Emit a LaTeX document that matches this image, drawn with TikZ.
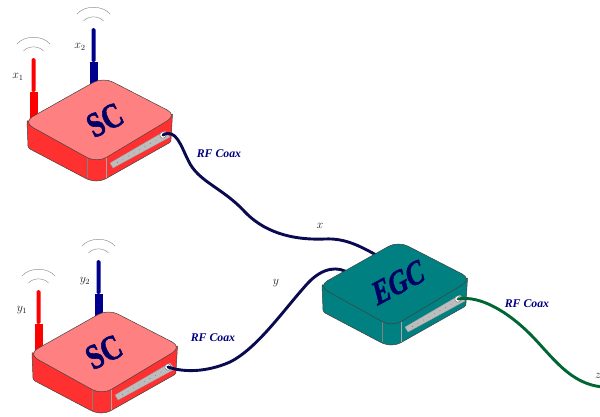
\documentclass[tikz,border=0pt]{standalone}
\usepackage{fontspec}
\setmainfont{Liberation Serif}
\newfontfamily\heavyserif[FakeBold=1.6]{Liberation Serif Bold}
\newfontfamily\heavyital[FakeBold=1.6,FakeSlant=.12]{Liberation Serif Bold Italic}
\usetikzlibrary{calc}
\definecolor{navyT}{HTML}{000066}
\definecolor{coaxT}{HTML}{000080}
\definecolor{cableN}{HTML}{0A0A50}
\definecolor{cableG}{HTML}{006633}
\definecolor{redtop}{HTML}{FF8080}
\definecolor{redside}{HTML}{FF3030}
\definecolor{tealbox}{HTML}{008080}
\definecolor{labelink}{HTML}{222222}
\tikzset{
  x=1pt,y=-1pt,
  caselines/.style={draw=black!75,line width=.5pt,line join=round},
  wave/.style={draw=black!45,line width=.45pt},
  devlabel/.style={font=\heavyserif\fontsize{35}{35}\selectfont,text=navyT,inner sep=0pt},
  coaxlabel/.style={font=\bfseries\itshape\fontsize{11.8}{12}\selectfont,text=coaxT,inner sep=0pt},
  siglabel/.style={font=\itshape\fontsize{12}{12}\selectfont,text=labelink,inner sep=0pt},
  cableline/.style={line width=2.9pt,line cap=round},
}
% #1 name, #2 offset, #3 top colour, #4 side colour
\newcommand{\routerdev}[4]{%
\begin{scope}[shift={#2}]
  \fill[#4,caselines] (27,121) -- (28,146) .. controls (28,147) and (29,148) .. (30,149) -- (85,178) .. controls (93,182) and (100,182) .. (107,178) -- (169,143) .. controls (171,142) and (171,141) .. (171,139) -- (172.5,114) -- cycle;
  \draw[draw=black!50,line width=.4pt] (87,155) -- (87,178);
  \draw[draw=black!35,line width=.3pt] (106,155) -- (106,178);
  \fill[#3,caselines,rounded corners=11pt] (23,122) -- (103,77) -- (177,115) -- (97,163) -- cycle;
  \fill[black!26,draw=black!40,line width=.3pt] (110,163) -- (165,131) -- (170,137) -- (113,168) -- cycle;
  \foreach \t in {.1,.2,...,.8}{\fill[black!55] ($(112,165.5)!\t!(167,134)$) circle (.4pt);}
  \fill[white,draw=black!60,line width=.4pt] (163,135) circle (3.2pt);
  \coordinate (#1-port) at (163,135);
\end{scope}}
\newcommand{\antenna}[4]{% x, y-offset shift, colour, height shift
\begin{scope}[shift={#1}]
  \fill[#2,rounded corners=1.5pt] (-2,#3+34) -- (-2,#3) -- (2,#3) -- (2,#3+34) -- cycle;
  \fill[#2] (-4,#3+34) rectangle (4,#3+#4);
  \draw[wave] (-16.5,#3-14) .. controls (-9,#3-23) and (9,#3-23) .. (16.5,#3-14);
  \draw[wave] (-10,#3-7) .. controls (-5,#3-12.5) and (5,#3-12.5) .. (10,#3-7);
\end{scope}}
\begin{document}
\begin{tikzpicture}
\useasboundingbox (0,0) rectangle (600,416);
% first SC
\antenna{(33.5,0)}{red}{58}{66}
\antenna{(93.5,0)}{blue!55!black}{28}{60}
\routerdev{sca}{(0,0)}{redtop}{redside}
\node[devlabel,rotate=27] (sca) at (105,120) {\scalebox{.8}[1]{SC}};
% second SC
\antenna{(38.5,232)}{red}{58}{66}
\antenna{(98.5,232)}{blue!55!black}{28}{60}
\routerdev{scb}{(5,232)}{redtop}{redside}
\node[devlabel,rotate=27] (scb) at (104,352) {\scalebox{.8}[1]{SC}};
% cables that run behind EGC
\coordinate (egcx) at (378,256);
\coordinate (egcy) at (350,274);
\draw[cableN,cableline] (sca-port) .. controls (176,128) and (181,146) .. (188,160)
  .. controls (198,182) and (222,187) .. (245,212)
  .. controls (268,236) and (300,240) .. (325,239)
  .. controls (345,238) and (360,246) .. (egcx);
\draw[cableN,cableline] (scb-port) .. controls (182,372) and (205,373) .. (230,362)
  .. controls (258,348) and (285,308) .. (308,283)
  .. controls (322,268) and (338,265) .. (egcy);
% EGC
\routerdev{egc}{(295,164)}{tealbox}{tealbox}
\node[devlabel,font=\heavyital\fontsize{33}{33}\selectfont,rotate=28] (egc) at (397,283) {\scalebox{.82}[1]{EGC}};
\coordinate (zend) at (604,387);
\draw[cableG,cableline] (egc-port) .. controls (480,295) and (508,312) .. (530,334)
  .. controls (552,356) and (570,385) .. (zend);
% labels
\node[siglabel] (lx1) at (18,77) {$x_1$};
\node[siglabel] (lx2) at (80,47) {$x_2$};
\node[siglabel] (ly1) at (22,310) {$y_1$};
\node[siglabel] (ly2) at (85,281) {$y_2$};
\node[siglabel] (lx) at (320,226) {$x$};
\node[siglabel] (ly) at (276,283) {$y$};
\node[siglabel] (lz) at (598,376) {$z$};
\node[coaxlabel] (ca) at (219,154) {RF Coax};
\node[coaxlabel] (cb) at (213,338) {RF Coax};
\node[coaxlabel] (cc) at (527,304) {RF Coax};
\end{tikzpicture}
\end{document}
